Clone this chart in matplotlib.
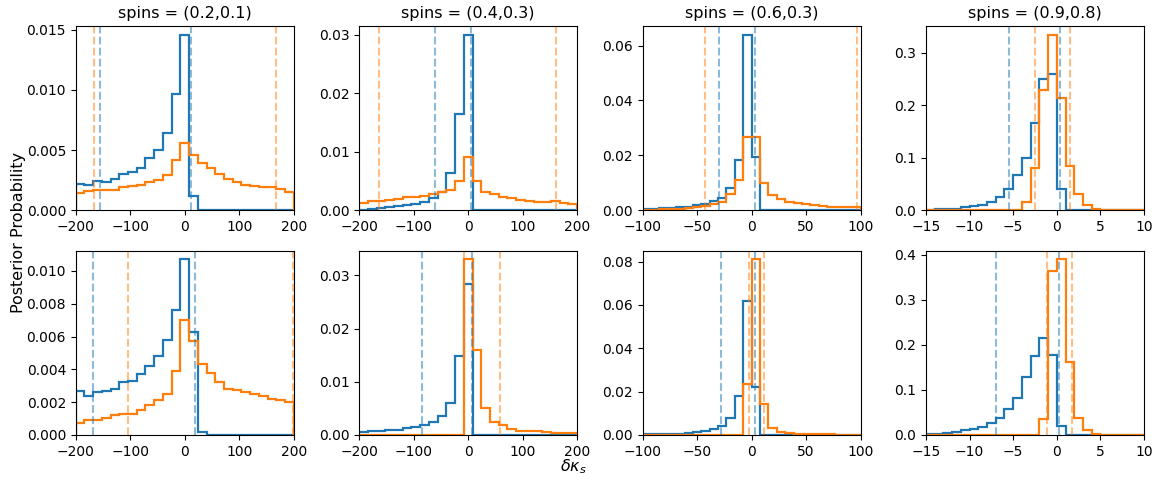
import numpy as np
import matplotlib.pyplot as plt

titles = ["spins = (0.2,0.1)", "spins = (0.4,0.3)", "spins = (0.6,0.3)", "spins = (0.9,0.8)"]
xlims = [(-200, 200), (-200, 200), (-100, 100), (-15, 10)]
nbins = [25, 25, 26, 25]

# top row
blue_top = [
    [0.00214, 0.0021, 0.0024, 0.0023, 0.0026, 0.0030, 0.0032, 0.0035, 0.0043, 0.0050, 0.0064, 0.0097, 0.0146, 0.0012,
     0, 0, 0, 0, 0, 0, 0, 0, 0, 0, 0],
    [0.0001, 0.0002, 0.0003, 0.0006, 0.0007, 0.0009, 0.0010, 0.0014, 0.0020, 0.0031, 0.0063, 0.0164, 0.0300,
     0, 0, 0, 0, 0, 0, 0, 0, 0, 0, 0, 0],
    [0.0004, 0.0005, 0.0006, 0.0009, 0.0010, 0.0012, 0.0018, 0.0024, 0.0033, 0.0043, 0.0082, 0.0183, 0.0640, 0.0195,
     0, 0, 0, 0, 0, 0, 0, 0, 0, 0, 0, 0],
    [0.001, 0.002, 0.0025, 0.003, 0.006, 0.007, 0.010, 0.016, 0.025, 0.040, 0.067, 0.100, 0.167, 0.250, 0.260, 0.040,
     0, 0, 0, 0, 0, 0, 0, 0, 0],
]
orange_top = [
    [0.00144, 0.0016, 0.0017, 0.0017, 0.0017, 0.0019, 0.0020, 0.0021, 0.0023, 0.0025, 0.0029, 0.0042, 0.0056,
     0.0046, 0.0039, 0.0035, 0.0030, 0.0026, 0.0023, 0.0021, 0.0020, 0.0019, 0.0019, 0.00175, 0.0015],
    [0.0013, 0.0015, 0.0016, 0.0017, 0.0019, 0.0022, 0.0023, 0.0024, 0.0028, 0.0031, 0.0035, 0.0050, 0.0090,
     0.0050, 0.0031, 0.0027, 0.0022, 0.0020, 0.0018, 0.0015, 0.0014, 0.0014, 0.0015, 0.0013, 0.0011],
    [0.0002, 0.0002, 0.0003, 0.0004, 0.0005, 0.0007, 0.0010, 0.0015, 0.0022, 0.0030, 0.0060, 0.0110, 0.0268,
     0.0268, 0.0100, 0.0057, 0.0040, 0.0030, 0.0025, 0.0021, 0.0017, 0.0015, 0.0013, 0.0012, 0.0011, 0.0011],
    [0, 0, 0, 0, 0, 0, 0, 0, 0, 0, 0, 0.015, 0.080, 0.230, 0.335, 0.215, 0.085, 0.030, 0.010, 0.003, 0.001,
     0, 0, 0, 0],
]

# bottom row
blue_bot = [
    [0.00265, 0.0024, 0.0026, 0.0027, 0.0028, 0.0032, 0.0033, 0.0037, 0.0042, 0.0048, 0.0058, 0.0076, 0.0107, 0.0063,
     0.0002, 0, 0, 0, 0, 0, 0, 0, 0, 0, 0],
    [0.0006, 0.0008, 0.0007, 0.0009, 0.0010, 0.0013, 0.0014, 0.0018, 0.0024, 0.0035, 0.0060, 0.0149, 0.0284,
     0, 0, 0, 0, 0, 0, 0, 0, 0, 0, 0, 0],
    [0.0002, 0.0003, 0.0004, 0.0005, 0.0006, 0.0009, 0.0012, 0.0017, 0.0028, 0.0043, 0.0080, 0.0182, 0.0620, 0.0219,
     0, 0, 0, 0, 0, 0, 0, 0, 0, 0, 0, 0],
    [0.002, 0.003, 0.004, 0.007, 0.010, 0.013, 0.018, 0.027, 0.037, 0.058, 0.083, 0.128, 0.176, 0.216, 0.178, 0.020,
     0, 0, 0, 0, 0, 0, 0, 0, 0],
]
orange_bot = [
    [0.00075, 0.0009, 0.00094, 0.00106, 0.0012, 0.0013, 0.0013, 0.00155, 0.0018, 0.0021, 0.0025, 0.0039, 0.0070,
     0.0057, 0.0043, 0.0038, 0.0032, 0.0028, 0.00275, 0.0026, 0.0025, 0.00235, 0.0022, 0.0021, 0.0020],
    [0, 0, 0, 0, 0, 0, 0, 0, 0, 0, 0, 0, 0.0330, 0.0159, 0.0050, 0.0025, 0.0018, 0.0011, 0.0008, 0.0007, 0.0007,
     0.0005, 0.0004, 0.0004, 0.0004],
    [0, 0, 0, 0, 0, 0, 0, 0, 0, 0, 0, 0, 0.0236, 0.0810, 0.0142, 0.0034, 0.0014, 0.0008, 0.0005, 0.0004, 0.0003,
     0.0002, 0.0002, 0.0001, 0.0001, 0.0],
    [0, 0, 0, 0, 0, 0, 0, 0, 0, 0, 0, 0, 0, 0.035, 0.365, 0.390, 0.161, 0.0385, 0.010, 0.003, 0, 0, 0, 0, 0],
]

# credible intervals (dashed lines)
blue_ci_top = [(-155, 10.8), (-60, 4.6), (-29.9, 3.2), (-5.44, 0.33)]
orange_ci_top = [(-166, 168), (-163, 162), (-42.4, 96.3), (-2.54, 1.55)]
blue_ci_bot = [(-169, 18.7), (-84, 6.4), (-27.7, 2.9), (-6.97, 0.27)]
orange_ci_bot = [(-104, 199), (-7, 58), (-2.6, 11.8), (-1.12, 1.7)]


def plot_panel(ax, i, blue, orange, blue_ci, orange_ci):
    lo, hi = xlims[i]
    edges = np.linspace(lo, hi, nbins[i] + 1)
    ax.stairs(blue, edges, color="C0", lw=1.6)
    ax.stairs(orange, edges, color="C1", lw=1.6)
    for x in blue_ci:
        ax.axvline(x, color="C0", ls="--", lw=1.5, alpha=0.5)
    for x in orange_ci:
        ax.axvline(x, color="C1", ls="--", lw=1.5, alpha=0.5)
    ax.set_xlim(lo, hi)
    ax.tick_params(labelsize=10)


fig, axes = plt.subplots(2, 4, figsize=(11.65, 4.79), dpi=100)
fig.subplots_adjust(left=0.065, right=0.982, top=0.946, bottom=0.092, wspace=0.30, hspace=0.22)

for i in range(4):
    plot_panel(axes[0, i], i, blue_top[i], orange_top[i], blue_ci_top[i], orange_ci_top[i])
    plot_panel(axes[1, i], i, blue_bot[i], orange_bot[i], blue_ci_bot[i], orange_ci_bot[i])
    axes[0, i].set_title(titles[i], fontsize=11.5)

fig.text(0.016, 0.515, "Posterior Probability", rotation=90, va="center", ha="center", fontsize=11.5)
fig.text(0.492, 0.025, r"$\delta\kappa_s$", va="center", ha="center", fontsize=11.5)

fig.savefig("out.png", dpi=100)
